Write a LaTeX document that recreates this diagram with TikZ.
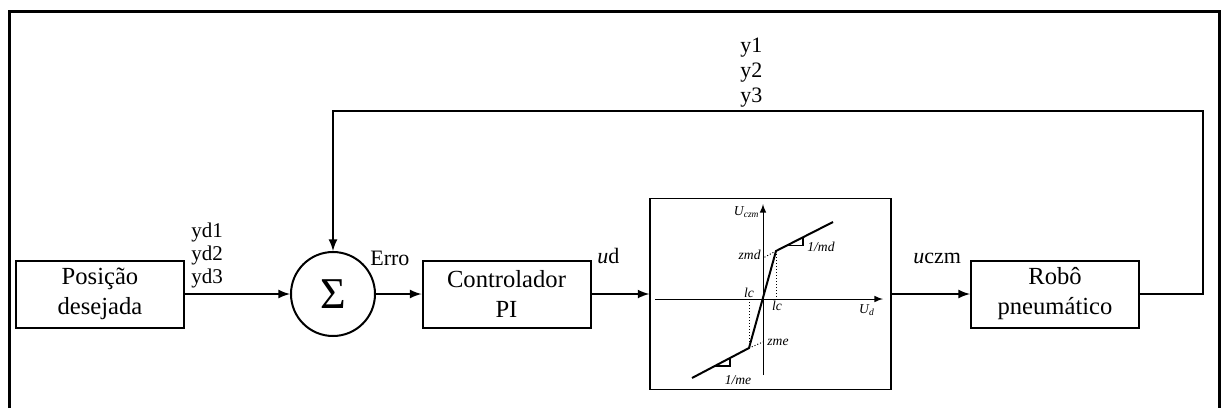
\documentclass[tikz,border=0pt]{standalone}
\usepackage{fontspec}
\setmainfont{Liberation Serif}
\tikzset{
  block/.style={draw, line width=1pt, minimum width=84pt, minimum height=33.5pt, align=center, inner sep=0pt, font=\fontsize{12.3}{15}\selectfont},
  lbl/.style={inner sep=0pt, font=\fontsize{11}{13}\selectfont},
  glbl/.style={inner sep=0pt, font=\fontsize{6.8}{8}\selectfont\itshape},
  line/.style={line width=1pt}
}
\begin{document}
\begin{tikzpicture}[x=0.5pt, y=-0.5pt]
\useasboundingbox (0,0) rectangle (1221,408);
% frame, open at the bottom
\draw[line width=1.5pt] (9.5,408) -- (9.5,11.5) -- (1219.5,11.5) -- (1219.5,408);

% blocks
\node[block] (pos) at (100,294) {Posição\\desejada};
\node[draw, circle, line width=1pt, minimum size=42pt, inner sep=0pt, font=\fontsize{22}{22}\selectfont] (sum) at (333,294) {Σ};
\node[block] (ctrl) at (506.5,294) {Controlador\\PI};
\node[draw, line width=0.6pt, minimum width=120.5pt, minimum height=95.5pt] (graph) at (770.5,294) {};
\node[block] (robo) at (1055,294) {Robô\\pneumático};

% signal labels
\foreach \i/\yy in {1/237,2/260,3/283}
  \node[lbl, anchor=base west, font=\fontsize{10.5}{12}\selectfont] (yd\i) at (191,\yy) {yd\i};
\foreach \i/\yy in {1/52,2/77,3/102}
  \node[lbl, anchor=base west] (y\i) at (740,\yy) {y\i};
\node[lbl, anchor=base west] (erro) at (370,265) {Erro};
\node[lbl, anchor=base west] (ud) at (597,263) {\textit{u}d};
\node[lbl, anchor=base west] (uczm) at (913,263) {\textit{u}czm};

% connectors
\draw[line,-latex] (pos.east) -- (sum.west);
\draw[line,-latex] (sum.east) -- (ctrl.west);
\draw[line,-latex] (ctrl.east) -- (graph.west);
\draw[line,-latex] (graph.east) -- (robo.west);
\coordinate (fbR) at (1203,111);
\coordinate (fbL) at (333,111);
\draw[line,-latex] (robo.east) -| (fbR) -- (fbL) -- (sum.north);

% dead zone characteristic
\begin{scope}[shift={(763,299)}]
\draw[line width=0.5pt,-latex] (-108,0) -- (120,0);
\draw[line width=0.5pt,-latex] (0,76) -- (0,-95);
\draw[line width=1pt] (-71,79) -- (-14,49) -- (13,-48) -- (70,-77);
\draw[densely dotted, line width=0.5pt] (13,-48) -- (0,-41);
\draw[densely dotted, line width=0.5pt] (-14,49) -- (0,43);
\draw[densely dotted, line width=0.5pt] (13,-48) -- (13,0);
\draw[densely dotted, line width=0.5pt] (-14,0) -- (-14,49);
\draw[line width=0.6pt] (24,-53.6) -- (40,-53.6) -- (40,-61.7);
\draw[line width=0.6pt] (-48,67) -- (-33,67) -- (-33,59);
\node[glbl, anchor=east] (ucz) at (-3,-87) {U\textsubscript{czm}};
\node[glbl] (uda) at (104,11) {U\textsubscript{d}};
\node[glbl, anchor=east] (zmd) at (-2,-44) {zmd};
\node[glbl, anchor=west] (md) at (44,-52) {1/md};
\node[glbl, anchor=south] (lcA) at (-14,-1) {lc};
\node[glbl, anchor=north] (lcB) at (14,2) {lc};
\node[glbl, anchor=west] (zme) at (4,43) {zme};
\node[glbl] (me) at (-25,81) {1/me};
\end{scope}
\end{tikzpicture}
\end{document}
